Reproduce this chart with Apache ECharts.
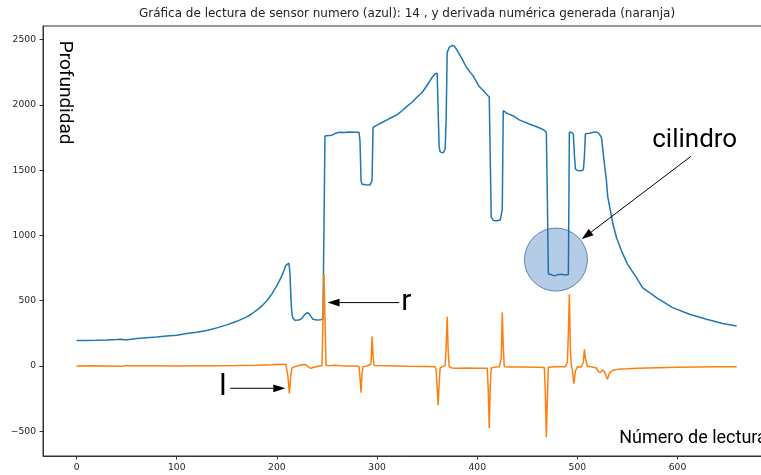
<!DOCTYPE html>
<html><head><meta charset="utf-8">
<script src="https://cdn.jsdelivr.net/npm/echarts@6/dist/echarts.min.js"></script>
<style>html,body{margin:0;padding:0;background:#fff}#c{width:761px;height:475px}</style>
</head><body><div id="c"></div>
<script>
// ---- data ----
const blueX = [0,10,20,30,40,45,47,50,55,60,70,80,90,100,110,120,130,140,150,160,170,175,180,185,190,195,200,204,207,209,210,212,213,214,215,216,218,222,225,228,230,232,234,236,240,244,246,247,248,252,255,258,262,268,272,278,282,283,284,285,289,293,295,296,300,305,310,315,320,325,330,335,340,345,350,355,358,360,361,362,363,364,366,368,369,370,372,375,377,380,385,389,396,402,406,410,412,413,414,416,420,423,425,426,430,436,442,452,460,466,469,470,471,474,477,480,484,488,491,492,494,496,497,498,500,504,506,507,508,512,516,520,522,524,525.5,527,529,530.4,533,535.5,539,544,550,559,565,579,595,612,629,645,659];
const blueY = [195,196,197,199,202,205,201,200,205,210,216,222,230,236,248,258,272,292,315,342,376,400,428,460,500,552,615,675,730,770,785,788,720,520,400,365,350,352,365,395,408,402,380,358,352,355,362,365,1762,1765,1768,1780,1790,1788,1792,1790,1790,1720,1420,1392,1388,1386,1420,1828,1845,1865,1885,1905,1925,1955,1990,2020,2060,2095,2150,2210,2238,2242,1950,1680,1640,1628,1632,1660,1900,2400,2440,2455,2452,2418,2350,2290,2220,2140,2110,2075,2060,1600,1140,1115,1112,1118,1200,1955,1935,1915,1885,1853,1830,1810,1790,1300,705,700,690,698,702,696,700,1790,1790,1775,1620,1510,1497,1495,1505,1600,1778,1782,1790,1790,1775,1751,1649,1547,1419,1291,1189,1087,984,882,780,677,600,524,447,396,358,325,307];

const orangeX = [0,15,30,45,48,60,80,100,120,140,160,180,195,205,209,210,211,212.5,214,215,218,222,226,229,231,234,237,241,245,246,247,248,249,252,258,264,270,280,282,283,284,285,286,290,294,295,296,297,310,330,350,358,359,360,361,362,363,366,368,369,370,371,372,375,380,390,400,410,411,412,413,414,418,422,424,425,426,427,432,445,460,467,468,469,470,471,478,488,490,491,492,493,494,495,496.5,498,500,504,506,507,508,510,515,519,521,523,525,527,530,532,535,540,550,560,580,600,620,640,659];
const orangeY = [0,1,-1,-3,2,1,1,0,2,2,3,5,9,14,12,2,-80,-210,-60,-15,-5,3,12,10,-5,-18,-10,-2,2,350,705,380,5,2,5,2,0,0,-5,-90,-205,-60,-5,0,15,225,80,3,1,-2,-4,-5,-30,-160,-300,-130,-15,-3,5,150,376,120,-5,-15,-18,-15,-17,-18,-180,-475,-160,-15,-8,-6,60,410,150,-5,-8,-8,-10,-12,-200,-545,-260,-10,-5,-5,30,250,550,120,5,-30,-135,-40,-5,-8,30,128,60,-2,-8,-15,-45,-51,-30,-45,-102,-55,-35,-26,-22,-17,-13,-10,-8,-6,-5];

const xTicks = [0,100,200,300,400,500,600];
const yTicks = [-500,0,500,1000,1500,2000,2500];

const titleText = 'Gráfica de lectura de sensor numero (azul): 14 , y derivada numérica generada (naranja)';
const yLabelText = 'Profundidad';
const xLabelText = 'Número de lectura';

// annotation anchors in data coordinates
const annTexts = [
  {text:'cilindro', at:[574.7,1725], size:26},
  {text:'r', at:[324.2,482.5], size:30},
  {text:'l', at:[142.5,-168.5], size:30},
  {text:xLabelText, at:[541.8,-552], size:18}
];
const yLabelAt = [-11.6, 2491];
const arrows = [
  {from:[613.4,1606], to:[504.2,970]},
  {from:[322.1,485.5], to:[250.6,485.5]},
  {from:[153.4,-170.8], to:[208.4,-170.8]}
];
const circleAt = [478.6, 815];

// ---- chart ----
const chart = echarts.init(document.getElementById('c'), null, {renderer:'canvas'});
const blueData = blueX.map((x,i)=>[x, blueY[i]]);
const orangeData = orangeX.map((x,i)=>[x, orangeY[i]]);
const axisColor = '#333';
const lblStyle = {color:'#262626', fontFamily:'DejaVu Sans', fontSize:9.2, margin:7};

chart.setOption({
  animation:false,
  grid:{left:43, right:-9, top:26, bottom:19, show:true, borderColor:axisColor, borderWidth:1, backgroundColor:'transparent', containLabel:false, outerBoundsMode:'none'},
  xAxis:{type:'value', min:-33.5, max:692.3,
    axisLine:{show:true, onZero:false, lineStyle:{color:axisColor, width:1}},
    axisTick:{show:true, customValues:xTicks, length:3.5, lineStyle:{color:axisColor}},
    axisLabel:Object.assign({customValues:xTicks}, lblStyle),
    splitLine:{show:false}},
  yAxis:{type:'value', min:-689.5, max:2604,
    axisLine:{show:true, onZero:false, lineStyle:{color:axisColor, width:1}},
    axisTick:{show:true, customValues:yTicks, length:3.5, lineStyle:{color:axisColor}},
    axisLabel:Object.assign({customValues:yTicks, formatter:v=> (v<0 ? '\u2212'+Math.abs(v) : String(v))}, lblStyle),
    splitLine:{show:false}},
  series:[
    {type:'line', data:blueData, showSymbol:false, symbol:'none', lineStyle:{color:'#1f77b4', width:1.5}, itemStyle:{color:'#1f77b4'}, z:2, silent:true},
    {type:'line', data:orangeData, showSymbol:false, symbol:'none', lineStyle:{color:'#ff7f0e', width:1.5}, itemStyle:{color:'#ff7f0e'}, z:3, silent:true}
  ]
});

const P = (pt)=>chart.convertToPixel({xAxisIndex:0, yAxisIndex:0}, pt);
const els = [];
// title
els.push({type:'text', x:407, y:14.2, z:100, style:{text:titleText, fill:'#222', fontFamily:'DejaVu Sans', fontSize:12, textAlign:'center', align:'center', textVerticalAlign:'middle', verticalAlign:'middle'}});
// circle
const cc = P(circleAt);
els.push({type:'circle', z:100, shape:{cx:cc[0], cy:cc[1], r:31.5}, style:{fill:'rgba(31,100,180,0.33)', stroke:'rgba(40,90,165,0.7)', lineWidth:1}});
// arrows
arrows.forEach(a=>{
  const s = P(a.from), t = P(a.to);
  const dx = t[0]-s[0], dy = t[1]-s[1], L = Math.hypot(dx,dy);
  const ux = dx/L, uy = dy/L, hl = 12, hw = 3.9;
  const bx = t[0]-ux*hl, by = t[1]-uy*hl;
  els.push({type:'line', z:101, shape:{x1:s[0], y1:s[1], x2:bx, y2:by}, style:{stroke:'#000', lineWidth:1}});
  els.push({type:'polygon', z:101, shape:{points:[[t[0],t[1]],[bx-uy*hw, by+ux*hw],[bx+uy*hw, by-ux*hw]]}, style:{fill:'#000'}});
});
// texts
annTexts.forEach(a=>{
  const p = P(a.at);
  els.push({type:'text', x:p[0], y:p[1], z:102, style:{text:a.text, fill:'#000', fontFamily:'Roboto', fontSize:a.size, textAlign:'left', align:'left', textVerticalAlign:'middle', verticalAlign:'middle'}});
});
const yl = P(yLabelAt);
els.push({type:'text', x:yl[0], y:yl[1], rotation:-Math.PI/2, z:102, style:{text:yLabelText, fill:'#000', fontFamily:'Roboto', fontSize:19, textAlign:'left', align:'left', textVerticalAlign:'middle', verticalAlign:'middle'}});

chart.setOption({graphic:{elements:els}});
</script>
</body></html>
